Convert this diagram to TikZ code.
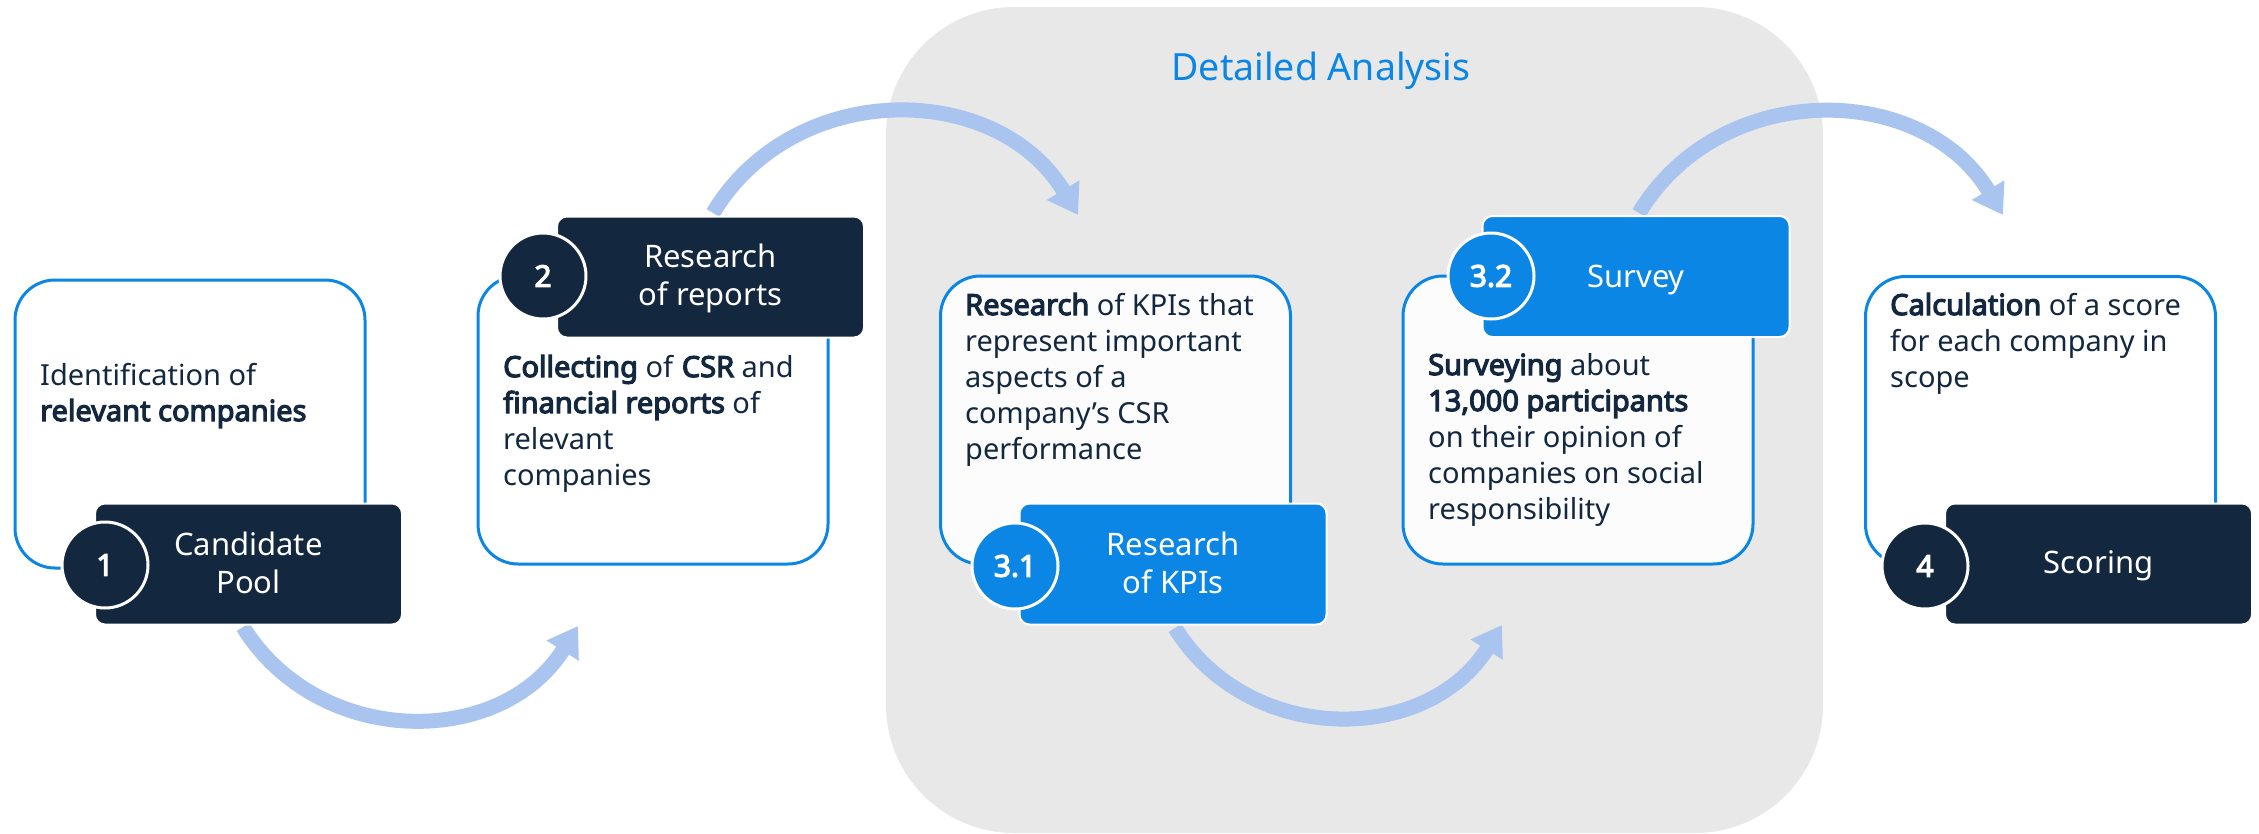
\documentclass[tikz,border=0pt]{standalone}
\usepackage{fontspec}
\setmainfont{Noto Sans}[BoldFont={Noto Sans},BoldFeatures={FakeBold=4}]
\usetikzlibrary{arrows.meta}
\definecolor{navy}{HTML}{13283F}
\definecolor{bblue}{HTML}{0B86E4}
\definecolor{arrowblue}{HTML}{AAC4F0}
\definecolor{panelgray}{HTML}{E8E8E8}
\definecolor{paper}{HTML}{FCFCFC}
\newcommand{\leftlines}[1]{\parbox[t]{440pt}{\raggedright #1}}
\newcommand{\midlines}[1]{\parbox[t]{300pt}{\centering #1}}
\begin{document}
\begin{tikzpicture}[x=1pt,y=-1pt,
  panel/.style={fill=panelgray, rounded corners=128pt, minimum width=937pt, minimum height=826pt, inner sep=0pt, outer sep=0pt},
  descbox/.style={draw=bblue, line width=3pt, fill=#1, rounded corners=40pt, minimum width=350pt, minimum height=288pt, inner sep=0pt, outer sep=0pt},
  labbox/.style={draw=white, line width=2pt, fill=#1, rounded corners=10pt, minimum width=307pt, minimum height=121pt, inner sep=0pt, outer sep=0pt},
  numcirc/.style={circle, draw=white, line width=3pt, fill=#1, minimum size=86pt, inner sep=0pt, text=white, font=\fontsize{30}{36}\selectfont\bfseries},
  desc/.style={anchor=base west, inner sep=0pt, text=navy, font=\fontsize{29}{36}\selectfont},
  labtext/.style={anchor=base, inner sep=0pt, text=white, font=\fontsize{31}{38}\selectfont},
  titletext/.style={anchor=base, inner sep=0pt, text=bblue, font=\fontsize{37.5}{44}\selectfont},
  flow/.style={draw=arrowblue, line width=15pt, -{Triangle[length=29pt,width=36pt]}}
]
\useasboundingbox (0,0) rectangle (2259,833);
% background panel
\node[panel] (panel) at (1354.5,420) {};
\node[titletext] (title) at (1321,80) {Detailed Analysis};
% connectors
\coordinate (a1s) at (243,627); \coordinate (a1e) at (578,626);
\coordinate (a2s) at (713,213); \coordinate (a2e) at (1078,215);
\coordinate (a3s) at (1175,628); \coordinate (a3e) at (1502,625);
\coordinate (a4s) at (1639,213); \coordinate (a4e) at (2003,215);
\draw[flow] (a1s) to[out=-58,in=-122,looseness=1.1] (a1e);
\draw[flow] (a2s) to[out=59,in=121,looseness=1.1] (a2e);
\draw[flow] (a3s) to[out=-58,in=-122,looseness=1.1] (a3e);
\draw[flow] (a4s) to[out=59,in=121,looseness=1.1] (a4e);
% description boxes
\node[descbox=white] (w1) at (190,424) {};
\node[descbox=white] (w2) at (653,420) {};
\node[descbox=paper] (w31) at (1115.5,420) {};
\node[descbox=paper] (w32) at (1578,420) {};
\node[descbox=white] (w4) at (2040.5,420.5) {};
% label boxes
\node[labbox=navy] (l1) at (248.5,564) {};
\node[labbox=navy] (l2) at (710.5,277) {};
\node[labbox=bblue] (l31) at (1173,564) {};
\node[labbox=bblue] (l32) at (1636,276.5) {};
\node[labbox=navy] (l4) at (2098.5,564) {};
% number circles
\node[numcirc=navy] (c1) at (105,565) {1};
\node[numcirc=navy] (c2) at (543,276) {2};
\node[numcirc=bblue] (c31) at (1015,566) {3.1};
\node[numcirc=bblue] (c32) at (1491,276) {3.2};
\node[numcirc=navy] (c4) at (1925,566) {4};
% label texts
\node[labtext] (t1) at (248.5,555) {\midlines{Candidate\\Pool}};
\node[labtext] (t2) at (710.5,267) {\midlines{Research\\of reports}};
\node[labtext] (t31) at (1173,555) {\midlines{Research\\of KPIs}};
\node[labtext] (t32) at (1636,287) {Survey};
\node[labtext] (t4) at (2098.5,573) {Scoring};
% descriptions
\node[desc] (d1) at (40,385) {\leftlines{Identification of\\\textbf{relevant companies}}};
\node[desc] (d2) at (503,377) {\leftlines{\textbf{Collecting} of \textbf{CSR} and\\\textbf{financial reports} of\\relevant\\companies}};
\node[desc] (d31) at (965,315) {\leftlines{\textbf{Research} of KPIs that\\represent important\\aspects of a\\company’s CSR\\performance}};
\node[desc] (d32) at (1428,375) {\leftlines{\textbf{Surveying} about\\\textbf{13,000 participants}\\on their opinion of\\companies on social\\responsibility}};
\node[desc] (d4) at (1890,315) {\leftlines{\textbf{Calculation} of a score\\for each company in\\scope}};
\end{tikzpicture}
\end{document}
